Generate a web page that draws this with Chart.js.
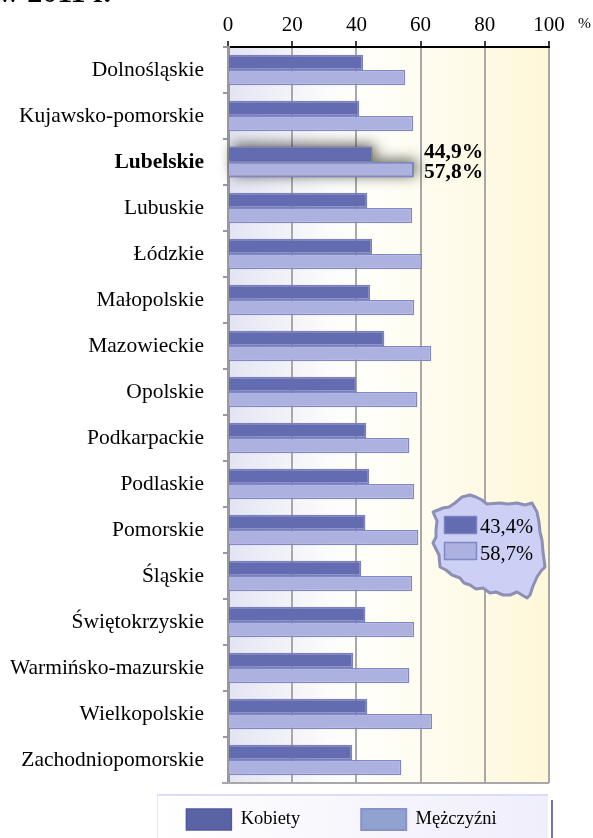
<!DOCTYPE html>
<html><head><meta charset="utf-8">
<style>html,body{margin:0;padding:0;background:#fff}#w{position:absolute;left:0;top:0;width:593px;height:838px}</style>
<script src="https://cdn.jsdelivr.net/npm/chart.js@4/dist/chart.umd.js"></script></head>
<body><div id="w"><canvas id="c" width="593" height="838"></canvas></div>
<script>
const regions=["Dolnośląskie","Kujawsko-pomorskie","Lubelskie","Lubuskie","Łódzkie","Małopolskie","Mazowieckie","Opolskie","Podkarpackie","Podlaskie","Pomorskie","Śląskie","Świętokrzyskie","Warmińsko-mazurskie","Wielkopolskie","Zachodniopomorskie"];
const kobiety=[42.1,40.9,44.9,43.4,44.9,44.3,48.7,40,43.1,44,42.8,41.5,42.8,39,43.4,38.7];
const mezczyzni=[55.2,57.7,57.8,57.4,60.5,58,63.3,59,56.5,58,59.3,57.4,58,56.5,63.6,54];
const xTicks=[0,20,40,60,80,100];
const highlight="Lubelskie";
const polska=["43,4%","58,7%"];
const serif='"Liberation Serif","Times New Roman",serif';
const polandOutline=[[433,512],[443,508],[449,507],[455,503],[462,497],[470,495],[476,497],[482,500],[487,504],[500,503],[508,504],[517,503],[525,505],[532,503],[537,512],[539,522],[540,532],[542,540],[543,552],[545,567],[541,571],[537,577],[533,586],[530,595],[527,598],[517,592],[510,595],[503,595],[496,592],[490,593],[483,588],[476,589],[470,585],[464,583],[460,578],[452,575],[446,570],[440,567],[439,555],[436,549],[433,543],[436,537],[436,530],[437,521]];

const backdrop={id:'backdrop',
 beforeDraw(ch){const{ctx,chartArea:a}=ch;
  const g=ctx.createLinearGradient(a.left,0,a.right,0);
  g.addColorStop(0,'#e3e4f2');g.addColorStop(.3,'#fbfbfd');g.addColorStop(.42,'#fffffa');g.addColorStop(1,'#fef7d9');
  ctx.save();ctx.fillStyle=g;ctx.fillRect(a.left,a.top,a.right-a.left,a.bottom-a.top);
  const bx=157,by=795,bw=391,bh=43;
  const lg=ctx.createLinearGradient(bx,by+bh,bx+bw,by);lg.addColorStop(0,'#ffffff');lg.addColorStop(1,'#efeefb');
  ctx.fillStyle=lg;ctx.fillRect(bx,by,bw,bh);
  ctx.fillStyle='#dcdcf6';ctx.fillRect(bx,794,bw,2);
  ctx.fillStyle='#e6e6f6';ctx.fillRect(bx,794,1,44);
  ctx.fillStyle='#7474ae';ctx.fillRect(551,800,2,38);
  ctx.restore();},
 afterLayout(ch){const L=ch.legend;if(!L)return;L.left=0;L.right=683;L.width=683;L.top=748;L.bottom=838;},
 beforeDatasetsDraw(ch){const{ctx,scales:{x,y}}=ch;
  const i=regions.indexOf(highlight);const m0=ch.getDatasetMeta(0).data[i],m1=ch.getDatasetMeta(1).data[i];
  ctx.save();ctx.shadowColor='rgba(50,50,40,.8)';ctx.shadowBlur=14;ctx.shadowOffsetX=3;ctx.shadowOffsetY=-2;ctx.fillStyle='#666';
  const hh=m0.height/2;
  ctx.fillRect(x.left+2,m0.y-hh,m0.x-x.left-2,m0.height);
  ctx.fillRect(x.left+2,m1.y-hh,m1.x-x.left-2,m1.height);
  ctx.restore();},
 afterDraw(ch){const{ctx,scales:{x,y},chartArea:a}=ch;
  ctx.save();
  ctx.fillStyle='#a8a8a8';ctx.fillRect(222,a.bottom-1,a.right-222,2);
  ctx.fillStyle='#000';ctx.textBaseline='alphabetic';ctx.font='15.5px '+serif;ctx.textAlign='left';
  ctx.fillText('%',578,28);
  ctx.font='bold 21.5px '+serif;
  const i=regions.indexOf(highlight);
  const fmt=v=>v.toFixed(1).replace('.',',')+'%';
  ctx.fillText(fmt(kobiety[i]),424,158);ctx.fillText(fmt(mezczyzni[i]),424,178);
  ctx.font='bold 30px '+serif;
  ctx.fillText('w 2011 r.',-2,2);
  ctx.beginPath();polandOutline.forEach((p,k)=>k?ctx.lineTo(p[0],p[1]):ctx.moveTo(p[0],p[1]));ctx.closePath();
  ctx.fillStyle='#ccd0f5';ctx.strokeStyle='#8d8fb4';ctx.lineWidth=3;ctx.lineJoin='round';ctx.fill();ctx.stroke();
  ctx.fillStyle='#636cb0';ctx.strokeStyle='#7a80c0';ctx.lineWidth=1.5;ctx.fillRect(444.5,516.5,32,17);ctx.strokeRect(444.5,516.5,32,17);
  ctx.fillStyle='#adb1df';ctx.strokeStyle='#7f87c4';ctx.fillRect(444.5,542.5,32,17);ctx.strokeRect(444.5,542.5,32,17);
  ctx.fillStyle='#000';ctx.font='20.5px '+serif;
  ctx.fillText(polska[0],480,533);ctx.fillText(polska[1],480,560);
  ctx.restore();}
};

new Chart(document.getElementById('c'),{type:'bar',
 data:{labels:regions,datasets:[
  {label:'Kobiety',data:kobiety,backgroundColor:'#636cb0',borderColor:'#7a80c0',borderWidth:1.5,barPercentage:1,categoryPercentage:.66},
  {label:'Mężczyźni',data:mezczyzni,backgroundColor:'#adb1df',borderColor:'#7f87c4',borderWidth:1.5,barPercentage:1,categoryPercentage:.66}]},
 plugins:[backdrop],
 options:{indexAxis:'y',responsive:false,animation:false,
  layout:{padding:{left:0,right:44,top:11,bottom:-37}},
  scales:{
   x:{position:'top',min:0,max:100,afterBuildTicks(s){s.ticks=xTicks.map(v=>({value:v}));},
     afterFit(s){s.height=36;},
     ticks:{color:'#000',font:{family:serif,size:21},padding:3,maxRotation:0},
     grid:{color:'#a8a8a8',lineWidth:2,drawTicks:true,tickColor:'#000',tickLength:6,tickWidth:1.5},
     border:{color:'#000',width:2}},
   y:{position:'left',afterFit(s){s.width=228;},
     ticks:{color:'#000',padding:19,autoSkip:false,font(c){return{family:serif,size:21.5,weight:regions[c.index]===highlight?'bold':'normal'}}},
     grid:{drawOnChartArea:false,drawTicks:true,tickLength:5,color:'#999',lineWidth:2},
     border:{color:'#999',width:3}}
  },
  plugins:{tooltip:{enabled:false},
   legend:{position:'bottom',labels:{boxWidth:45,boxHeight:21,padding:61,color:'#000',font:{family:serif,size:18.5},
    generateLabels(){return[{text:'Kobiety',fillStyle:'#5a64a4',strokeStyle:'#505a9a',lineWidth:1.5,datasetIndex:0},{text:'Mężczyźni',fillStyle:'#90a2cf',strokeStyle:'#8a90c8',lineWidth:2,datasetIndex:1}]}}}}
 }});
</script></body></html>
